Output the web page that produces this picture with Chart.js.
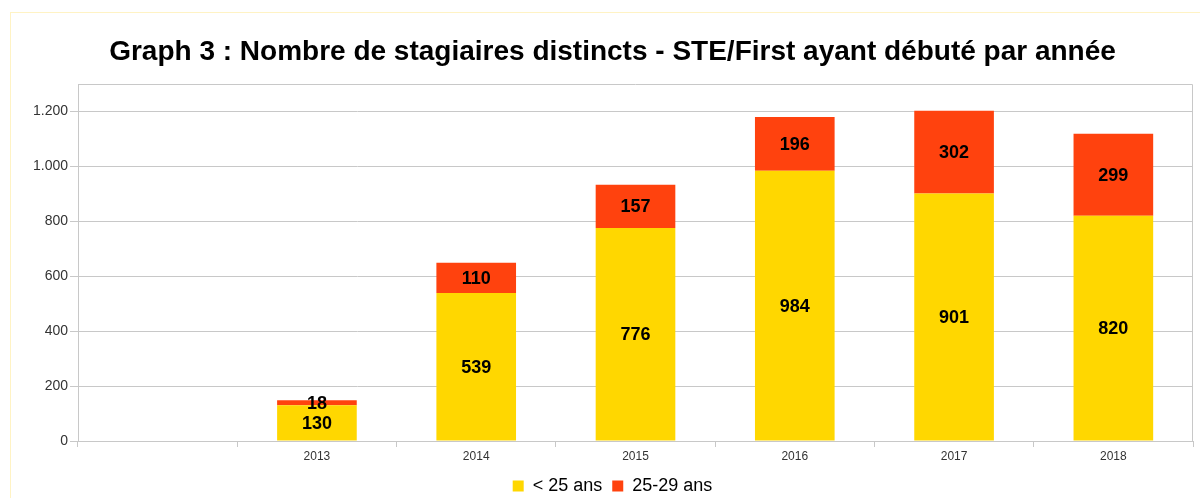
<!DOCTYPE html>
<html><head><meta charset="utf-8">
<script src="https://cdn.jsdelivr.net/npm/chart.js@4/dist/chart.umd.min.js"></script>
<style>html,body{margin:0;padding:0;background:#fff}#wrap{width:1200px;height:498px}</style>
</head><body><div id="wrap"><canvas id="c" width="1200" height="498"></canvas></div>
<script>
const categories = ["", "2013", "2014", "2015", "2016", "2017", "2018"];
const under25 = [null, 130, 539, 776, 984, 901, 820];
const age25to29 = [null, 18, 110, 157, 196, 302, 299];
const yTicks = [0, 200, 400, 600, 800, 1000, 1200];
const seriesNames = ["< 25 ans", "25-29 ans"];

const FONT = '"Liberation Sans", Arial, sans-serif';

const frame = {
  id: 'frame',
  beforeDraw(chart) {
    const ctx = chart.ctx;
    ctx.save();
    ctx.strokeStyle = '#fff3c4';
    ctx.lineWidth = 1;
    ctx.strokeRect(10.5, 12.5, 1200, 500);
    ctx.restore();
  },
  afterDatasetsDraw(chart) {
    const ctx = chart.ctx, a = chart.chartArea;
    ctx.save();
    ctx.strokeStyle = '#c8c8c8';
    ctx.lineWidth = 1;
    ctx.beginPath();
    ctx.moveTo(a.left + 0.5, a.bottom);
    ctx.lineTo(a.left + 0.5, a.top + 0.5);
    ctx.lineTo(a.right - 0.5, a.top + 0.5);
    ctx.lineTo(a.right - 0.5, a.bottom);
    ctx.stroke();
    ctx.fillStyle = '#000';
    ctx.font = 'bold 18px ' + FONT;
    ctx.textAlign = 'center';
    ctx.textBaseline = 'middle';
    chart.data.datasets.forEach((ds, i) => {
      const meta = chart.getDatasetMeta(i);
      meta.data.forEach((el, j) => {
        const v = ds.data[j];
        if (v == null) return;
        const p = el.getProps(['x', 'y', 'base'], true);
        ctx.fillText(String(v), p.x, (p.y + p.base) / 2 + 1);
      });
    });
    ctx.restore();
  }
};

new Chart(document.getElementById('c'), {
  type: 'bar',
  data: {
    labels: categories,
    datasets: [
      { label: seriesNames[0], data: under25, backgroundColor: '#ffd700', barPercentage: 0.5, categoryPercentage: 1 },
      { label: seriesNames[1], data: age25to29, backgroundColor: '#ff420e', barPercentage: 0.5, categoryPercentage: 1 }
    ]
  },
  options: {
    responsive: false,
    animation: false,
    devicePixelRatio: 1,
    layout: { padding: { left: 32, right: 7, top: 0, bottom: -7 } },
    plugins: {
      title: {
        display: true,
        text: 'Graph 3 : Nombre de stagiaires distincts - STE/First ayant débuté par année',
        font: { family: FONT, size: 28, weight: 'bold' },
        color: '#000',
        padding: { top: 35, bottom: 15.4 }
      },
      legend: {
        position: 'bottom',
        labels: {
          boxWidth: 11, boxHeight: 11, padding: 10,
          color: '#000',
          font: { family: FONT, size: 18 }
        }
      },
      tooltip: { enabled: false }
    },
    scales: {
      x: {
        stacked: true,
        afterFit(scale) { scale.height = 26; },
        grid: { display: true, drawOnChartArea: false, drawTicks: true, tickLength: 6, color: '#c8c8c8', offset: true },
        border: { display: true, color: '#c8c8c8' },
        ticks: { color: '#333', font: { family: FONT, size: 12 }, padding: 2, maxRotation: 0 }
      },
      y: {
        stacked: true,
        min: 0, max: 1300,
        afterBuildTicks(scale) { scale.ticks = yTicks.map(v => ({ value: v })); },
        afterFit(scale) { scale.width = 46; },
        grid: { color: '#c8c8c8', tickLength: 8, drawTicks: true },
        border: { display: true, color: '#c8c8c8' },
        ticks: {
          color: '#333', padding: 2,
          font: { family: FONT, size: 14 },
          callback: v => v === 0 ? '0' : v.toLocaleString('de-DE')
        }
      }
    }
  },
  plugins: [frame]
});
</script></body></html>
